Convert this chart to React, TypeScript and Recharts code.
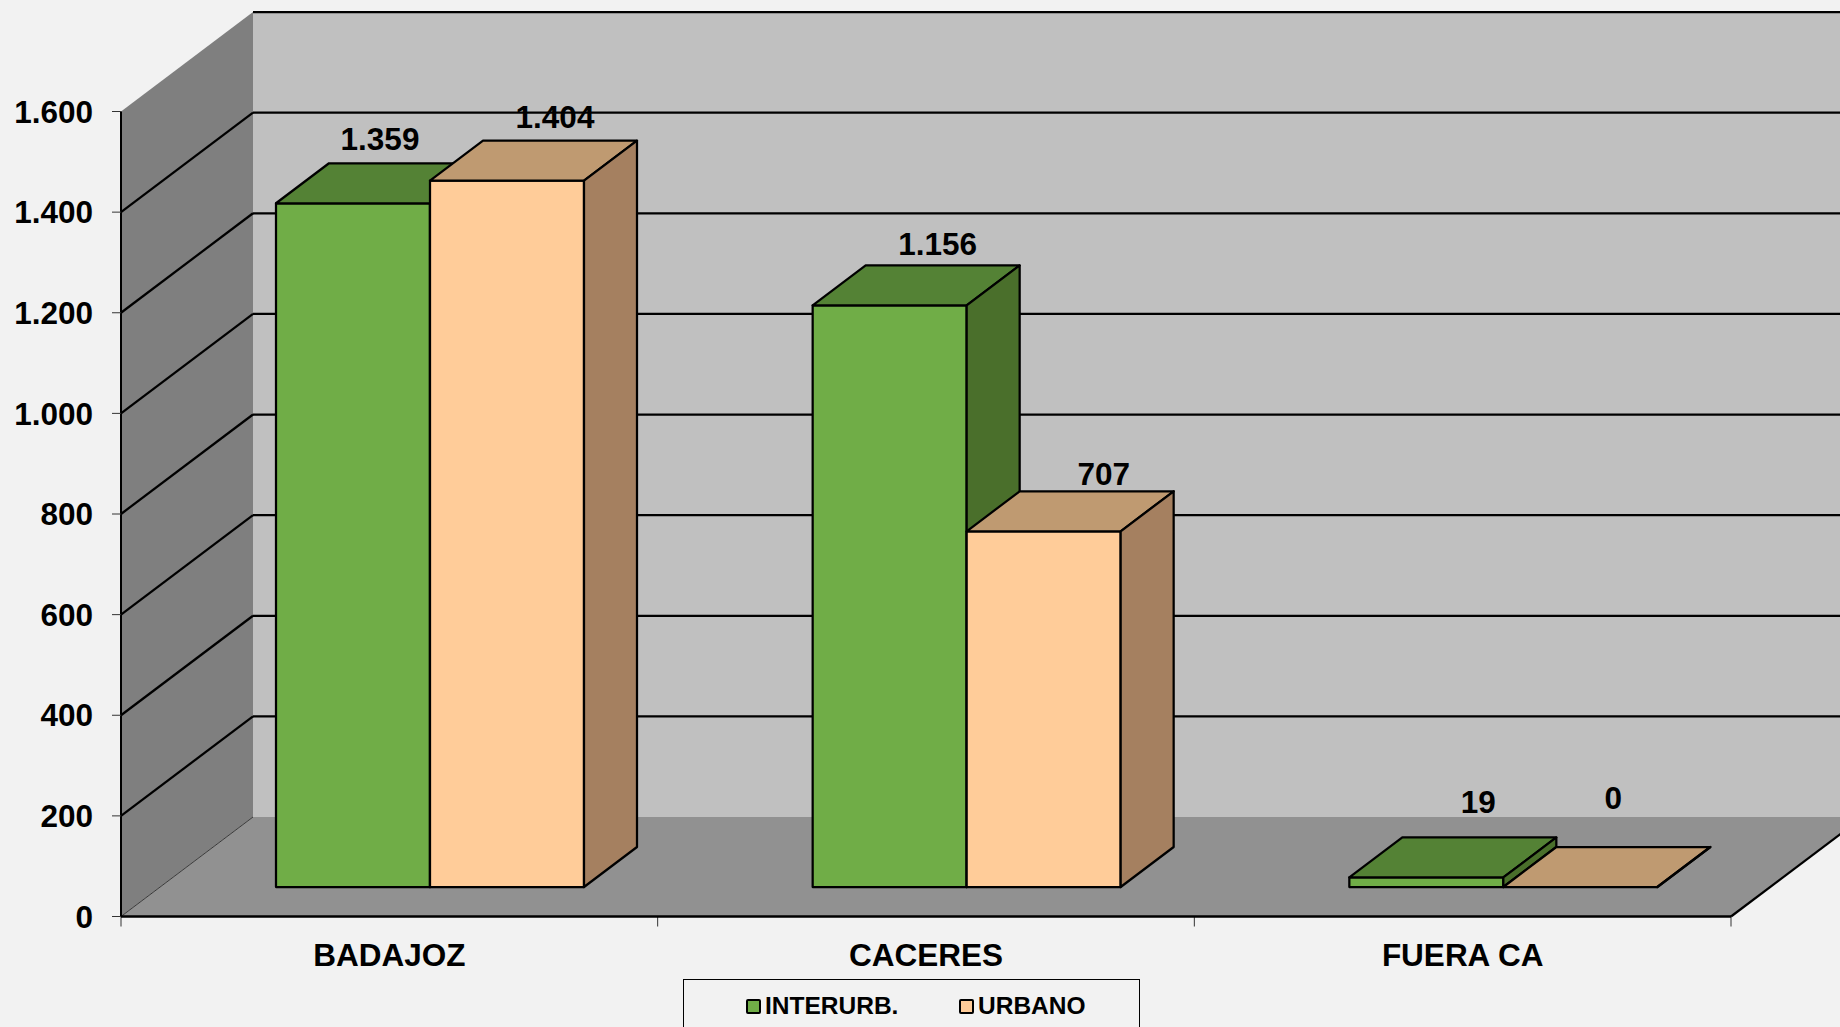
import React from 'react';
import { BarChart, Bar, XAxis, YAxis, CartesianGrid, Legend, LabelList } from 'recharts';

const categories = ['BADAJOZ', 'CACERES', 'FUERA CA'];
const interurbValues = [1359, 1156, 19];
const urbanoValues = [1404, 707, 0];
const yTicks = [0, 200, 400, 600, 800, 1000, 1200, 1400, 1600];

// nudges of the value labels, the original has them dragged by hand
const interurbNudge = [[27, -64], [48, -61], [52, -75]];
const urbanoNudge = [[48, -64], [60, -57], [33, -89]];

const chartData = categories.map((name, i) => ({
  name,
  interurb: interurbValues[i],
  urbano: urbanoValues[i],
}));

const W = 1840;
const H = 1027;
const PLOT = { left: 121, right: 1731, top: 111.5, bottom: 916.5 };
const WALL_DX = 132;
const WALL_DY = -99.5;
const BAR_DX = 41;
const BAR_DY = -29.5;
const DEPTH_DX = 53;
const DEPTH_DY = -40;
const FONT = '"Liberation Sans", Arial, sans-serif';

const fmt = (v: number) => (v >= 1000 ? `${Math.floor(v / 1000)}.${String(v % 1000).padStart(3, '0')}` : String(v));

const pts = (list: number[][]) => list.map(p => p.join(',')).join(' ');

// walls and floor sit behind the (transparent) chart
const Walls = () => {
  const { left, right, top, bottom } = PLOT;
  const band = (right - left) / categories.length;
  return (
    <svg width={W} height={H} style={{ position: 'absolute', left: 0, top: 0 }}>
      <polygon
        points={pts([[left + WALL_DX, top + WALL_DY], [W + 200, top + WALL_DY], [W + 200, bottom + WALL_DY], [left + WALL_DX, bottom + WALL_DY]])}
        fill="#c0c0c0"
      />
      <polygon
        points={pts([[left, top], [left + WALL_DX, top + WALL_DY], [left + WALL_DX, bottom + WALL_DY], [left, bottom]])}
        fill="#7f7f7f"
      />
      <polygon
        points={pts([[left, bottom], [left + WALL_DX, bottom + WALL_DY], [right + WALL_DX, bottom + WALL_DY], [right, bottom]])}
        fill="#919191"
      />
      <line x1={right} y1={bottom} x2={right + WALL_DX} y2={bottom + WALL_DY} stroke="#000" strokeWidth={2.25} />
      {Array.from({ length: categories.length + 1 }, (_, i) => (
        <line key={i} x1={left + band * i} y1={bottom} x2={left + band * i} y2={bottom + 10} stroke="#333" strokeWidth={1} />
      ))}
    </svg>
  );
};

// one line on the side wall and its continuation on the back wall
const gridLine = (props: any) => {
  const { x1, y1, key } = props;
  const isFloor = Math.abs(y1 - PLOT.bottom) < 1;
  const isTop = Math.abs(y1 - PLOT.top) < 1;
  return (
    <g key={key}>
      {!isTop && (
        <line x1={x1} y1={y1} x2={x1 + WALL_DX} y2={y1 + WALL_DY} stroke={isFloor ? '#3a3a3a' : '#000'} strokeWidth={isFloor ? 1 : 2.25} />
      )}
      {!isFloor && (
        <line x1={x1 + WALL_DX} y1={y1 + WALL_DY} x2={W + 200} y2={y1 + WALL_DY} stroke="#000" strokeWidth={2.25} />
      )}
    </g>
  );
};

const bar3d = (topFill: string, sideFill: string) => (props: any) => {
  const { x, y, width, height, fill } = props;
  const l = x + BAR_DX;
  const r = l + width;
  const t = y + BAR_DY;
  const b = t + height;
  return (
    <g stroke="#000" strokeWidth={2.25} strokeLinejoin="round">
      <rect x={l} y={t} width={width} height={height} fill={fill} />
      <polygon points={pts([[l, t], [r, t], [r + DEPTH_DX, t + DEPTH_DY], [l + DEPTH_DX, t + DEPTH_DY]])} fill={topFill} />
      <polygon points={pts([[r, t], [r + DEPTH_DX, t + DEPTH_DY], [r + DEPTH_DX, b + DEPTH_DY], [r, b]])} fill={sideFill} />
    </g>
  );
};

const valueLabel = (nudge: number[][]) => (props: any) => {
  const { x, y, width, value, index } = props;
  return (
    <text
      x={x + BAR_DX + width / 2 + nudge[index][0]}
      y={y + BAR_DY + nudge[index][1]}
      textAnchor="middle"
      dominantBaseline="central"
      fontFamily={FONT}
      fontWeight="bold"
      fontSize={31.5}
      fill="#000"
    >
      {fmt(value)}
    </text>
  );
};

const LegendBox = ({ payload }: any) => (
  <div
    style={{
      boxSizing: 'border-box',
      width: 457,
      height: 70,
      border: '1px solid #000',
      background: '#f2f2f2',
      fontFamily: FONT,
      fontWeight: 'bold',
      fontSize: 24.5,
      color: '#000',
      position: 'relative',
    }}
  >
    {(payload || []).map((p: any, i: number) => (
      <div key={p.value} style={{ position: 'absolute', left: i === 0 ? 62 : 275, top: 12, display: 'flex', alignItems: 'center', whiteSpace: 'nowrap' }}>
        <span style={{ display: 'inline-block', boxSizing: 'border-box', width: 15, height: 15, background: p.color, border: '2px solid #000', borderRadius: 2, marginRight: 4 }} />
        {p.value}
      </div>
    ))}
  </div>
);

export default function App() {
  const axisText = { fill: '#000', fontFamily: FONT, fontWeight: 'bold', fontSize: 31.5 };
  return (
    <div style={{ position: 'fixed', left: 0, top: 0, width: W, height: H, overflow: 'hidden', background: '#f2f2f2' }}>
      <Walls />
      <BarChart
        width={W}
        height={H}
        data={chartData}
        barSize={154}
        barGap={0}
        margin={{ top: PLOT.top, right: W - PLOT.right, bottom: H - PLOT.bottom - 60, left: PLOT.left - 100 }}
        style={{ position: 'absolute', left: 0, top: 0 }}
      >
        <CartesianGrid vertical={false} horizontal={gridLine} />
        <XAxis dataKey="name" interval={0} height={60} axisLine={{ stroke: '#000', strokeWidth: 2.5 }} tickLine={false} tickSize={0} tickMargin={27} tick={axisText} />
        <YAxis
          width={100}
          domain={[0, 1600]}
          ticks={yTicks}
          tickFormatter={fmt}
          interval={0}
          axisLine={{ stroke: '#000', strokeWidth: 2 }}
          tickLine={{ stroke: '#333', strokeWidth: 1 }}
          tickSize={9}
          tickMargin={19}
          tick={axisText}
        />
        <Legend
          verticalAlign="middle"
          layout="horizontal"
          content={<LegendBox />}
          wrapperStyle={{ position: 'absolute', left: 683, top: 979, width: 457, height: 70, margin: 0 }}
        />
        <Bar name="INTERURB." dataKey="interurb" fill="#70ad47" shape={bar3d('#548235', '#4a6f2b')} isAnimationActive={false}>
          <LabelList dataKey="interurb" content={valueLabel(interurbNudge)} />
        </Bar>
        <Bar name="URBANO" dataKey="urbano" fill="#ffcc99" shape={bar3d('#bf9a71', '#a58060')} isAnimationActive={false}>
          <LabelList dataKey="urbano" content={valueLabel(urbanoNudge)} />
        </Bar>
      </BarChart>
    </div>
  );
}
